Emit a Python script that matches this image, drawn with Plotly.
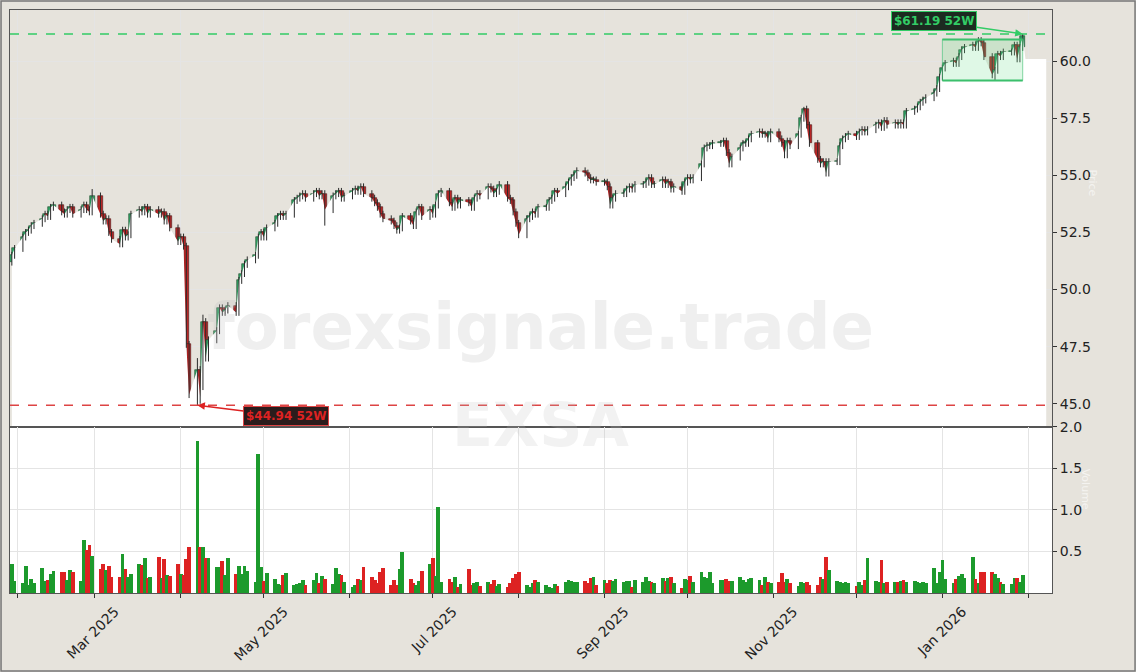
import pandas as pd
import plotly.graph_objects as go
from plotly.subplots import make_subplots

dates = pd.bdate_range("2025-01-30", "2026-01-30")

closes = [
    51.5, 51.8,
    52.3, 52.5, 52.6, 52.8, 52.9,
    53.1, 53.3, 53.2, 53.6, 53.7,
    53.4, 53.3, 53.5, 53.6, 53.3,
    53.5, 53.7, 53.5, 53.4, 54.1,
    53.3, 53.0, 53.1, 52.5, 52.2,
    52.0, 52.6, 52.3, 52.4, 53.3,
    53.5, 53.4, 53.6, 53.3, 53.5,
    53.3, 53.4, 53.0, 53.2, 52.7,
    52.1, 52.3, 51.9, 47.6, 45.4,
    46.5, 45.3, 48.6, 47.0, 47.8,
    48.2, 49.2, 49.0, 49.1, 49.3,
    49.0, 50.4, 50.7, 51.1, 51.3,
    51.5, 52.3, 52.5, 52.3, 52.7,
    52.9, 53.2, 53.3, 53.2, 53.3,
    53.9, 54.0, 54.1, 54.2, 54.0,
    54.2, 54.3, 54.1, 54.2, 53.5,
    54.1, 54.2, 54.3, 54.0, 54.1,
    54.3, 54.4, 54.3, 54.5, 54.2,
    54.0, 53.8, 53.6, 53.3, 53.1,
    53.0, 52.8, 52.6, 52.7, 53.2,
    53.0, 52.8, 53.4, 53.6, 53.2,
    53.5, 53.3, 53.7, 54.2, 54.3,
    53.8, 53.6, 54.0, 53.7, 53.9,
    53.8, 53.6, 54.0, 54.2, 54.1,
    54.5, 54.4, 54.2, 54.3, 54.6,
    54.0, 53.9, 53.4, 52.9, 52.4,
    53.1, 53.2, 53.4, 53.3, 53.6,
    53.6, 53.9, 54.0, 54.3, 54.2,
    54.5, 54.7, 54.9, 55.0, 55.2,
    55.1, 54.9, 54.8, 54.8, 54.7,
    54.7, 54.5, 53.7, 54.0, 54.2,
    54.2, 54.4, 54.5, 54.4, 54.6,
    54.6, 54.7, 54.9, 54.6, 54.6,
    54.8, 54.6, 54.7, 54.4, 54.5,
    54.3, 54.7, 54.9, 54.8, 54.9,
    55.5, 56.2, 56.3, 56.3, 56.4,
    56.4, 56.5, 56.0, 55.5, 55.8,
    56.2, 56.4, 56.4, 56.6, 56.8,
    56.9, 56.8, 56.8, 56.6, 56.9,
    56.6, 56.4, 55.9, 56.5, 56.3,
    56.8, 57.5, 57.9, 57.2, 56.4,
    55.7, 55.5, 55.6, 55.1, 55.6,
    55.6, 56.3, 56.6, 56.7, 56.8,
    56.7, 56.9, 57.0, 56.9, 57.0,
    57.2, 57.3, 57.1, 57.4, 57.2,
    57.3, 57.2, 57.3, 57.2, 57.8,
    57.9, 58.0, 58.2, 58.3, 58.4,
    58.6, 58.8, 59.3, 59.7, 59.9,
    60.0, 59.9, 60.2, 60.5, 60.6,
    60.7, 60.6, 60.9, 60.8, 60.2,
    59.4, 59.6, 60.3, 60.2, 60.4,
    60.4, 60.7, 60.1, 60.6, 61.1,
]

volumes = [
    0.35, 0.15,
    0.12, 0.33, 0.10, 0.17, 0.12,
    0.30, 0.15, 0.16, 0.23, 0.27,
    0.26, 0.26, 0.16, 0.28, 0.26,
    0.15, 0.64, 0.52, 0.58, 0.45,
    0.29, 0.35, 0.28, 0.33, 0.20,
    0.19, 0.47, 0.29, 0.19, 0.23,
    0.35, 0.34, 0.42, 0.18, 0.19,
    0.43, 0.18, 0.41, 0.22, 0.21,
    0.35, 0.23, 0.22, 0.41, 0.55,
    1.83, 0.55, 0.55, 0.42, 0.42,
    0.32, 0.32, 0.39, 0.22, 0.42,
    0.23, 0.33, 0.23, 0.33, 0.27,
    0.14, 1.67, 0.31, 0.15, 0.24,
    0.17, 0.11, 0.10, 0.22, 0.24,
    0.10, 0.11, 0.12, 0.16, 0.10,
    0.16, 0.24, 0.12, 0.21, 0.17,
    0.11, 0.30, 0.23, 0.22, 0.13,
    0.07, 0.10, 0.17, 0.16, 0.32,
    0.20, 0.16, 0.12, 0.26, 0.30,
    0.10, 0.16, 0.10, 0.29, 0.49,
    0.17, 0.12, 0.10, 0.15, 0.27,
    0.35, 0.42, 0.21, 1.04, 0.14,
    0.17, 0.13, 0.20, 0.08, 0.11,
    0.29, 0.10, 0.12, 0.13, 0.09,
    0.14, 0.11, 0.16, 0.09, 0.11,
    0.08, 0.12, 0.18, 0.23, 0.25,
    0.10, 0.08, 0.12, 0.16, 0.14,
    0.10, 0.08, 0.06, 0.11, 0.09,
    0.13, 0.16, 0.15, 0.14, 0.14,
    0.15, 0.12, 0.18, 0.19, 0.10,
    0.16, 0.12, 0.16, 0.15, 0.17,
    0.13, 0.15, 0.15, 0.08, 0.16,
    0.14, 0.20, 0.15, 0.14, 0.12,
    0.18, 0.15, 0.18, 0.20, 0.12,
    0.06, 0.17, 0.16, 0.21, 0.14,
    0.25, 0.19, 0.18, 0.26, 0.12,
    0.16, 0.16, 0.17, 0.15, 0.15,
    0.19, 0.16, 0.13, 0.17, 0.18,
    0.16, 0.10, 0.20, 0.14, 0.12,
    0.13, 0.24, 0.14, 0.17, 0.12,
    0.09, 0.14, 0.12, 0.13, 0.10,
    0.10, 0.20, 0.17, 0.43, 0.28,
    0.15, 0.13, 0.12, 0.14, 0.12,
    0.09, 0.13, 0.10, 0.16, 0.42,
    0.15, 0.14, 0.40, 0.12, 0.13,
    0.14, 0.13, 0.15, 0.16, 0.13,
    0.15, 0.13, 0.12, 0.13, 0.12,
    0.30, 0.12, 0.25, 0.40, 0.17,
    0.12, 0.17, 0.21, 0.23, 0.18,
    0.43, 0.17, 0.12, 0.26, 0.25,
    0.25, 0.23, 0.18, 0.14, 0.11,
    0.11, 0.18, 0.18, 0.13, 0.22,
]

first_open = 51.2
low_overrides = {"2025-04-07": 44.94, "2025-04-08": 45.0, "2025-04-09": 45.6,
                 "2025-05-23": 52.8, "2026-01-20": 59.15}
high_overrides = {"2026-01-30": 61.19, "2025-02-28": 54.4, "2025-11-12": 58.0,
                  "2025-04-09": 48.9, "2025-04-07": 47.0}
wick = 0.15

high52 = 61.19
low52 = 44.94

opens = [first_open] + closes[:-1]
highs, lows = [], []
for d, o, c in zip(dates, opens, closes):
    k = d.strftime("%Y-%m-%d")
    highs.append(high_overrides.get(k, max(o, c) + wick))
    lows.append(low_overrides.get(k, min(o, c) - wick))

up = [c >= o for o, c in zip(opens, closes)]
vol_colors = ["#1c9a2c" if u else "#dd2222" for u in up]
body_colors = ["#2fa062" if u else "#b82626" for u in up]
edge_colors = ["#1e4a2e" if u else "#4a1818" for u in up]
body_base = [min(o, c) for o, c in zip(opens, closes)]
body_h = [max(abs(c - o), 0.04) for o, c in zip(opens, closes)]

wx, wy = [], []
for d, h, l in zip(dates, highs, lows):
    wx += [d, d, None]
    wy += [l, h, None]

DAY = 86400000
fig = make_subplots(rows=2, cols=1, shared_xaxes=True, vertical_spacing=0,
                    row_heights=[0.715, 0.285])

fill_x = list(dates) + [pd.Timestamp("2026-01-31"), pd.Timestamp("2026-02-07 12:00")]
fill_y = closes + [60.1, 60.1]
fig.add_trace(go.Scatter(x=fill_x, y=fill_y, fill="tozeroy", fillcolor="white",
                         mode="lines", line=dict(width=0),
                         hoverinfo="skip", showlegend=False), row=1, col=1)

fig.add_trace(go.Scatter(x=wx, y=wy, mode="lines", line=dict(color="#2a2a2a", width=1),
                         hoverinfo="skip", showlegend=False), row=1, col=1)
fig.add_trace(go.Bar(x=dates, y=body_h, base=body_base, width=DAY * 1.7,
                     marker=dict(color=body_colors, line=dict(color=edge_colors, width=0.6)),
                     showlegend=False), row=1, col=1)

fig.add_trace(go.Bar(x=dates, y=volumes, marker=dict(color=vol_colors, line=dict(width=0)),
                     width=DAY * 1.35, showlegend=False), row=2, col=1)

beige = "#e6e3dc"
xr = ["2025-01-29 08:00", "2026-02-09 14:00"]
months = pd.date_range("2025-02-01", "2026-02-01", freq="MS")
labels = [m.strftime("%b %Y") if m.month % 2 == 1 else "" for m in months]

fig.update_layout(
    width=1136, height=672, paper_bgcolor=beige, plot_bgcolor="white",
    margin=dict(l=10, r=84, t=10, b=79, autoexpand=False),
    font=dict(family="DejaVu Sans", size=14, color="#222"),
    bargap=0, barmode="overlay",
    shapes=[
        dict(type="rect", xref="x domain", yref="y domain", x0=0, x1=1, y0=0, y1=1,
             fillcolor=beige, line=dict(width=0), layer="below"),
        dict(type="rect", xref="x", yref="y", x0="2026-01-01", x1="2026-01-30",
             y0=59.15, y1=60.95, fillcolor="rgba(110,225,140,0.22)",
             line=dict(color="rgba(60,190,110,0.6)", width=1)),
        dict(type="line", xref="x", yref="y", x0="2026-01-01", x1="2026-01-30",
             y0=60.95, y1=60.95, line=dict(color="#3cbf6c", width=2)),
        dict(type="line", xref="x", yref="y", x0="2026-01-01", x1="2026-01-30",
             y0=59.15, y1=59.15, line=dict(color="#3cbf6c", width=2)),
        dict(type="line", xref="x domain", yref="y", x0=0, x1=1, y0=high52, y1=high52,
             line=dict(color="#33cc66", width=1.5, dash="dash")),
        dict(type="line", xref="x domain", yref="y", x0=0, x1=1, y0=low52, y1=low52,
             line=dict(color="#dd4444", width=1.5, dash="dash")),
        dict(type="rect", xref="paper", yref="paper", x0=-0.0086, x1=1.0797,
             y0=-0.1338, y1=1.0154, line=dict(color="#777", width=1.5), layer="below"),
    ],
    annotations=[
        dict(x="2026-01-30", y=high52, ax="2025-12-29", ay=61.75, xref="x", yref="y",
             axref="x", ayref="y", text="<b>$61.19 52W</b>", showarrow=True,
             arrowhead=2, arrowsize=1, arrowwidth=1.5, arrowcolor="#33cc66",
             font=dict(color="#33cc66", size=12), bgcolor="#1c2b20",
             bordercolor="#33cc66", borderwidth=1, borderpad=2),
        dict(x="2025-04-07", y=low52, ax="2025-05-09", ay=44.45, xref="x", yref="y",
             axref="x", ayref="y", text="<b>$44.94 52W</b>", showarrow=True,
             arrowhead=2, arrowsize=1, arrowwidth=1.5, arrowcolor="#dd2222",
             font=dict(color="#dd2222", size=12), bgcolor="#2b1c1c",
             bordercolor="#dd4444", borderwidth=1, borderpad=2),
        dict(x=0.509, y=0.456, xref="paper", yref="paper", text="<b>forexsignale.trade</b>",
             showarrow=False, font=dict(size=64, color="rgba(190,190,190,0.25)")),
        dict(x=0.509, y=0.225, xref="paper", yref="paper", text="<b>EXSA</b>",
             showarrow=False, font=dict(size=60, color="rgba(190,190,190,0.2)")),
        dict(x=1.047, y=0.73, xref="paper", yref="paper", text="Price", textangle=90,
             showarrow=False, font=dict(size=11, color="rgba(255,255,255,0.6)")),
        dict(x=1.04, y=0.14, xref="paper", yref="paper", text="Volume", textangle=90,
             showarrow=False, font=dict(size=11, color="rgba(255,255,255,0.6)")),
    ],
)

axis_common = dict(showline=True, linecolor="#555", linewidth=1, mirror=True,
                   gridcolor="#e4e4e4", gridwidth=1, zeroline=False)
fig.update_xaxes(range=xr, tickvals=months, ticktext=labels, tickangle=-45,
                 ticks="outside", ticklen=4, tickcolor="#333", ticklabelshift=20,
                 **axis_common)
fig.update_xaxes(showticklabels=False, ticks="", row=1, col=1)
fig.update_yaxes(side="right", ticks="outside", ticklen=4, tickcolor="#333", **axis_common)
fig.update_yaxes(range=[43.99, 62.24], tickvals=[45, 47.5, 50, 52.5, 55, 57.5, 60],
                 tickformat=".1f", row=1, col=1)
fig.update_yaxes(range=[0, 2.0], tickvals=[0.5, 1.0, 1.5, 2.0], tickformat=".1f",
                 row=2, col=1)

fig.write_html("out.html", config={"displayModeBar": False},
               post_script="document.body.style.margin='0';")
